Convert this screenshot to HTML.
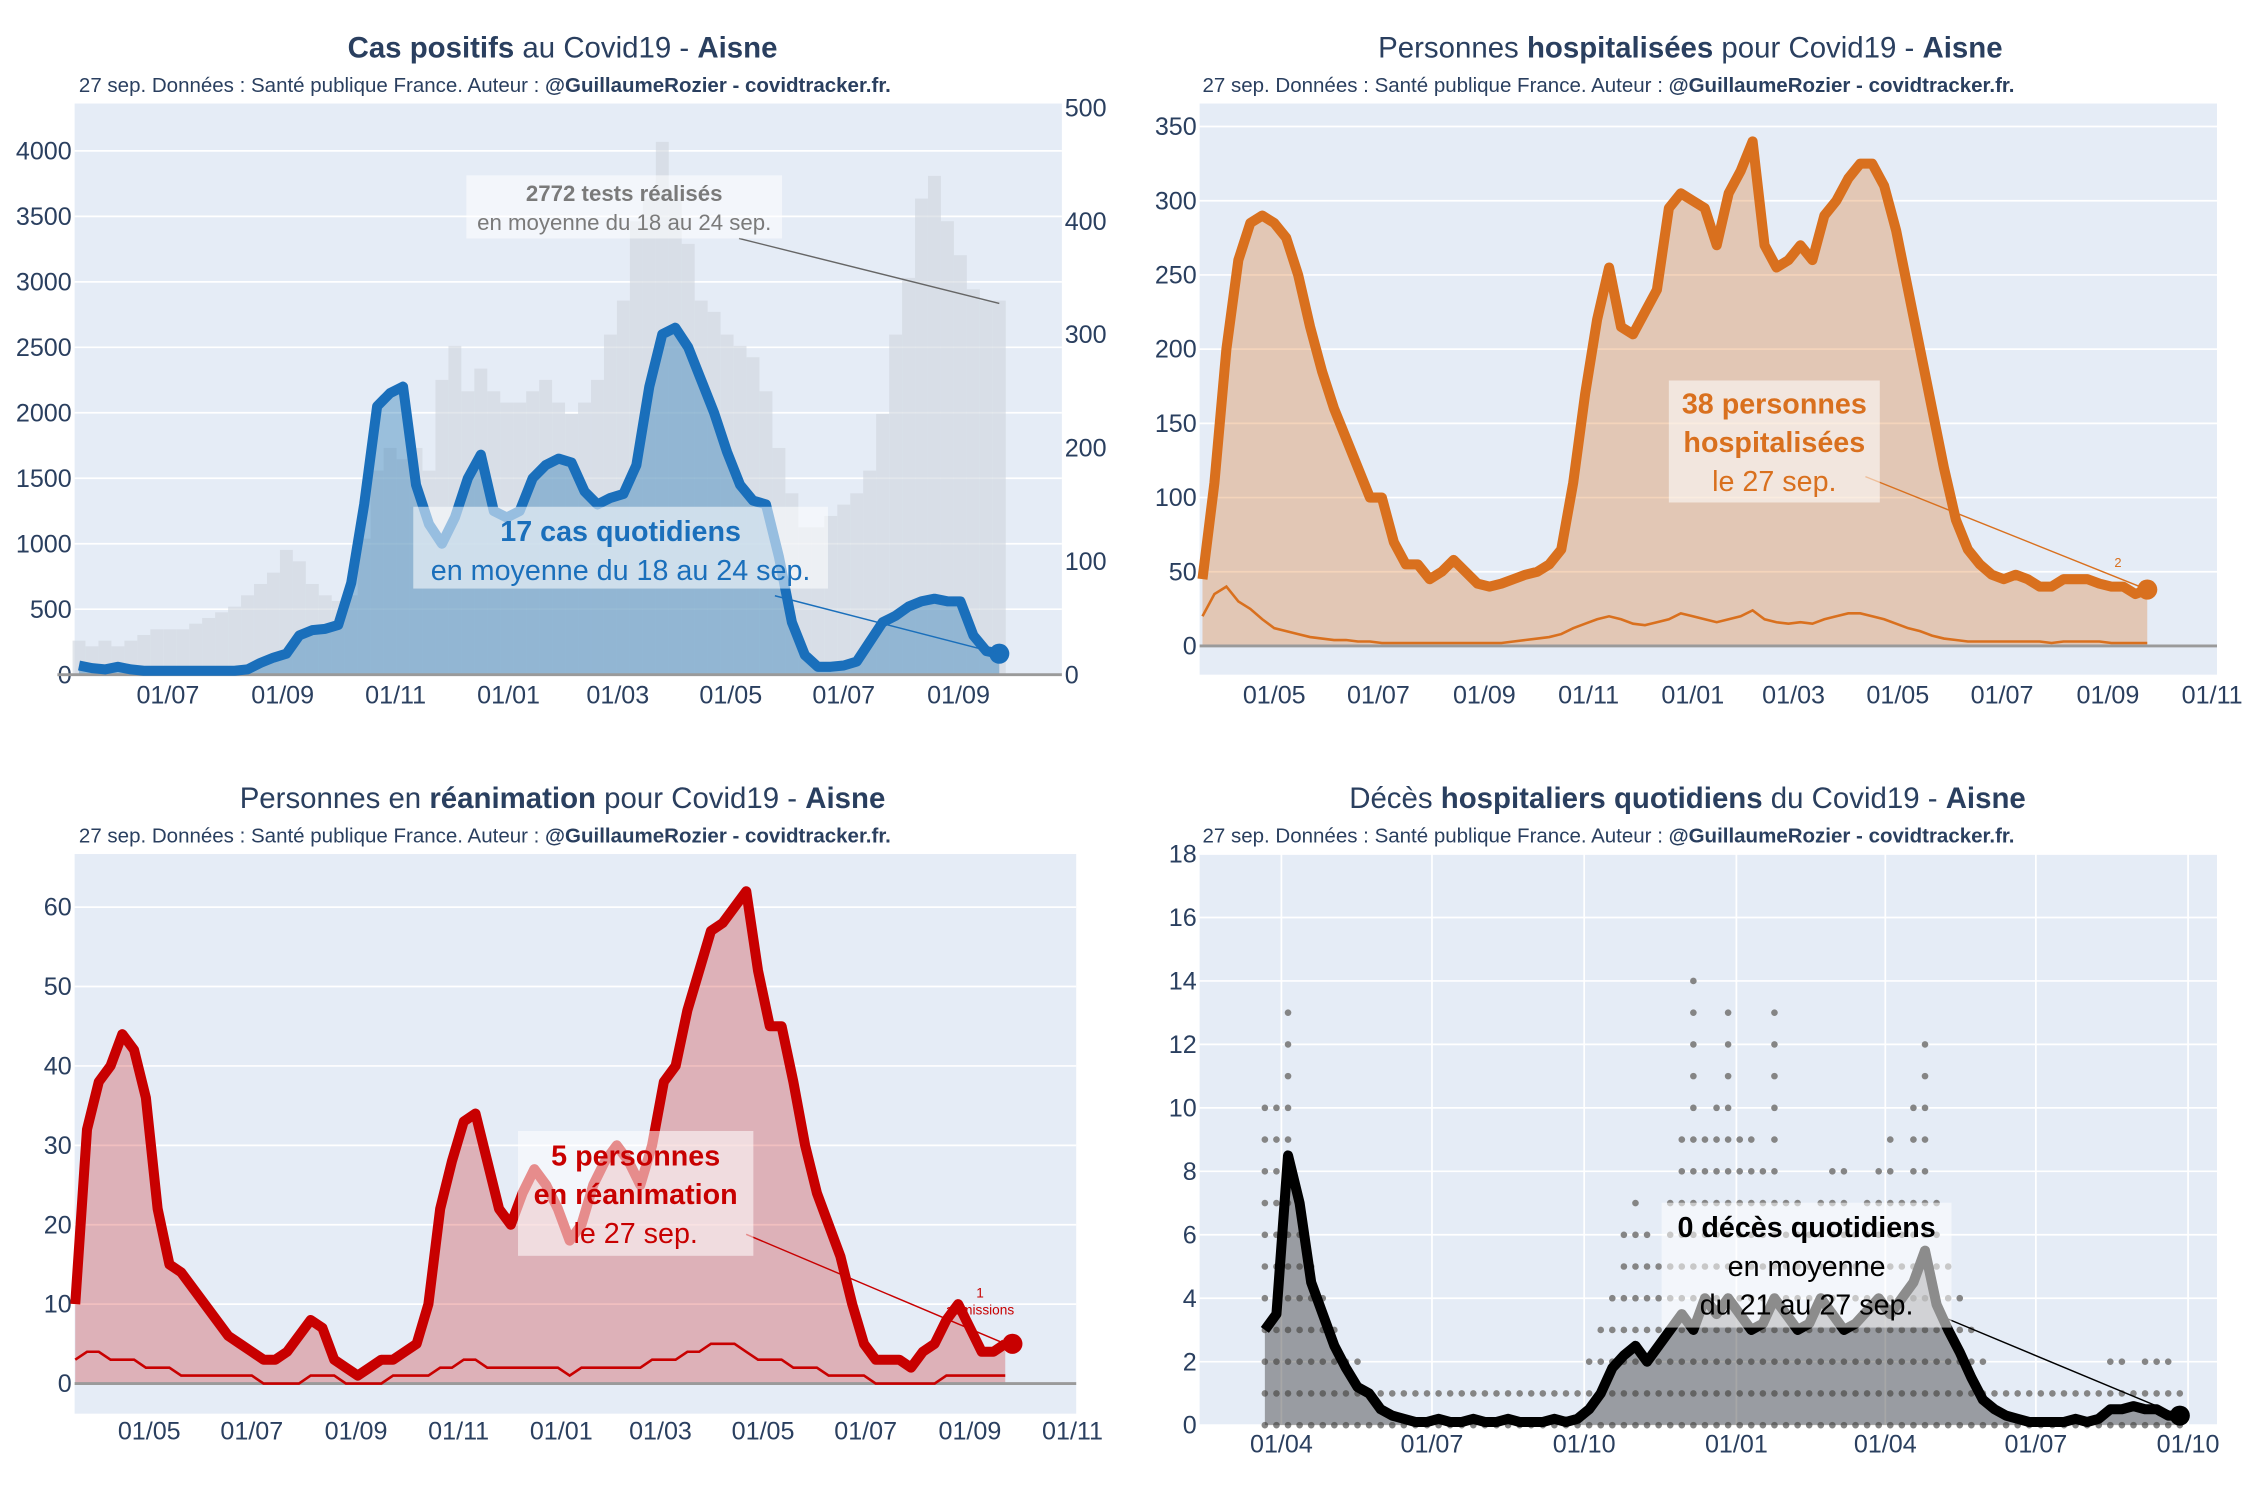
<!DOCTYPE html>
<html><head><meta charset="utf-8"><style>
html,body{margin:0;padding:0;background:#fff;width:2250px;height:1500px;overflow:hidden}
svg text{font-family:"Liberation Sans",sans-serif}
</style></head><body>
<svg id="chart" xmlns="http://www.w3.org/2000/svg" width="2250" height="1500" viewBox="0 0 1568 1045"></svg>
<script>
// ---- data ----
const casesStart = '2020-05-14';
const casesAvg = [70,50,40,60,40,30,30,30,30,30,30,30,30,40,90,130,160,300,340,350,380,700,1300,2050,2150,2200,1450,1150,1000,1200,1500,1680,1250,1200,1250,1500,1600,1650,1620,1400,1300,1350,1380,1600,2200,2600,2650,2500,2250,2000,1700,1450,1330,1300,900,400,150,60,60,70,100,250,400,450,520,560,580,560,560,300,180,160];
const testsAvg = [30,25,30,25,30,35,40,40,40,45,50,55,60,70,80,90,110,100,80,70,65,70,120,180,200,190,200,180,260,290,250,270,250,240,240,250,260,240,230,240,260,300,330,400,420,470,420,380,330,320,300,290,280,250,200,160,130,130,140,150,160,180,230,300,350,420,440,400,370,340,330,330];
const casesTicks = ['2020-07-01','2020-09-01','2020-11-01','2021-01-01','2021-03-01','2021-05-01','2021-07-01','2021-09-01'];
const casesLeftTicks = [0,500,1000,1500,2000,2500,3000,3500,4000];
const casesRightTicks = [0,100,200,300,400,500];

const hospStart = '2020-03-20';
const hosp = [45,110,200,260,285,290,285,275,250,215,185,160,140,120,100,100,70,55,55,45,50,58,50,42,40,42,45,48,50,55,65,110,170,220,255,215,210,225,240,295,305,300,295,270,305,320,340,270,255,260,270,260,290,300,315,325,325,310,280,240,200,160,120,85,65,55,48,45,48,45,40,40,45,45,45,42,40,40,35,38];
const hospAdm = [20,35,40,30,25,18,12,10,8,6,5,4,4,3,3,2,2,2,2,2,2,2,2,2,2,2,3,4,5,6,8,12,15,18,20,18,15,14,16,18,22,20,18,16,18,20,24,18,16,15,16,15,18,20,22,22,20,18,15,12,10,7,5,4,3,3,3,3,3,3,3,2,3,3,3,3,2,2,2,2];
const hospTicks = ['2020-05-01','2020-07-01','2020-09-01','2020-11-01','2021-01-01','2021-03-01','2021-05-01','2021-07-01','2021-09-01','2021-11-01'];
const hospYTicks = [0,50,100,150,200,250,300,350];

const reaStart = '2020-03-18';
const rea = [10,32,38,40,44,42,36,22,15,14,12,10,8,6,5,4,3,3,4,6,8,7,3,2,1,2,3,3,4,5,10,22,28,33,34,28,22,20,24,27,25,22,18,20,25,28,30,28,25,30,38,40,47,52,57,58,60,62,52,45,45,38,30,24,20,16,10,5,3,3,3,2,4,5,8,10,7,4,4,5];
const reaAdm = [3,4,4,3,3,3,2,2,2,1,1,1,1,1,1,1,0,0,0,0,1,1,1,0,0,0,0,1,1,1,1,2,2,3,3,2,2,2,2,2,2,2,1,2,2,2,2,2,2,3,3,3,4,4,5,5,5,4,3,3,3,2,2,2,1,1,1,1,0,0,0,0,0,0,1,1,1,1,1,1];
const reaTicks = hospTicks;
const reaYTicks = [0,10,20,30,40,50,60];

const decStart = '2020-03-22';
const dec = [3,3.5,8.5,7,4.5,3.5,2.5,1.8,1.2,1,0.5,0.3,0.2,0.1,0.1,0.2,0.1,0.1,0.2,0.1,0.1,0.2,0.1,0.1,0.1,0.2,0.1,0.2,0.5,1,1.8,2.2,2.5,2,2.5,3,3.5,3,4,3.5,4,3.5,3,3.2,4,3.5,3,3.2,4,3.5,3,3.2,3.6,4,3.5,4,4.5,5.5,3.8,3,2.3,1.5,0.8,0.5,0.3,0.2,0.1,0.1,0.1,0.1,0.2,0.1,0.2,0.5,0.5,0.6,0.5,0.5,0.3,0.3];
const decDailyMax = [10,10,13,6,5,4,3,2,2,1,1,1,1,1,1,1,1,1,1,1,1,1,1,1,1,1,1,1,2,3,4,6,7,6,5,7,9,14,9,10,13,9,9,8,13,7,7,6,7,8,8,6,7,8,9,7,10,12,7,5,4,3,2,1,1,1,1,1,1,1,1,1,1,2,2,1,2,2,2,1];
const decTicks = ['2020-04-01','2020-07-01','2020-10-01','2021-01-01','2021-04-01','2021-07-01','2021-10-01'];
const decYTicks = [0,2,4,6,8,10,12,14,16,18];

// ---- helpers ----
const NS='http://www.w3.org/2000/svg';
const svg=document.getElementById('chart');
function mk(tag,attrs,parent){const e=document.createElementNS(NS,tag);for(const k in attrs)e.setAttribute(k,attrs[k]);(parent||svg).appendChild(e);return e;}
function dayNum(s){const p=s.split('-');return Date.UTC(+p[0],+p[1]-1,+p[2])/86400000;}
function lbl(s){const p=s.split('-');return p[2]+'/'+p[1];}
const TC='#2a3f5f';

function panel(cfg){
  const g=mk('g',{});
  
  
  const bg=mk('rect',{x:cfg.px0,y:cfg.py0,width:cfg.px1-cfg.px0,height:cfg.py1-cfg.py0,fill:'#e5ecf6'},g);
  
  
  const xAt=d=>cfg.xRef+(dayNum(d)-dayNum(cfg.refDate))*cfg.pxDay;
  const yAt=v=>cfg.yZero-(v/cfg.yMaxVal)*(cfg.yZero-cfg.yMaxPx);
  const xi=(start,i)=>cfg.xRef+(dayNum(start)+7*i-dayNum(cfg.refDate))*cfg.pxDay;
  cfg.yTicks.forEach(t=>{
    const y=yAt(t);
    const l=mk('line',{x1:cfg.px0,x2:cfg.px1,y1:y,y2:y,stroke:'#fff','stroke-width':1.2},g);
    
    
    const tx=mk('text',{x:cfg.yLabelX,y:y+6,'font-size':17.5,fill:TC,'text-anchor':'end'},g);
    tx.textContent=t;
    
    
  });
  cfg.xTicks.forEach(t=>{
    const x=xAt(t);
    if(cfg.vgrid){const l=mk('line',{x1:x,x2:x,y1:cfg.py0,y2:cfg.py1,stroke:'#fff','stroke-width':1.2},g);
      
      }
    const tx=mk('text',{x:x,y:cfg.xLabelY,'font-size':17.5,fill:TC,'text-anchor':'middle'},g);
    tx.textContent=lbl(t);
    
    
  });
  const ti=mk('text',{x:cfg.titleX,y:cfg.titleY,'font-size':20.5,fill:TC,'text-anchor':'middle'},g);
  ti.innerHTML=cfg.title;
  
  
  const st=mk('text',{x:cfg.subX,y:cfg.titleY+24,'font-size':14.3,fill:TC},g);
  st.innerHTML='27 sep. Données : Santé publique France. Auteur : <tspan font-weight="bold">@GuillaumeRozier - covidtracker.fr.</tspan>';
  
  
  return {g,xAt,yAt,xi};
}
function areaPath(vals,xf,yf,y0){let d='M'+xf(0)+','+y0;vals.forEach((v,i)=>{d+=' L'+xf(i)+','+yf(v);});d+=' L'+xf(vals.length-1)+','+y0+' Z';return d;}
function linePath(vals,xf,yf){return vals.map((v,i)=>(i?'L':'M')+xf(i)+','+yf(v)).join(' ');}
function annot(g,x,y,w,h,lines,color,name){
  const r=mk('rect',{x:x,y:y,width:w,height:h,fill:'rgba(255,255,255,0.55)'},g);
  
  
  lines.forEach((ln,k)=>{
    const t=mk('text',{x:x+w/2,y:y+ln.dy,'font-size':ln.fs,fill:color,'text-anchor':'middle','font-weight':ln.b?'bold':'normal'},g);
    t.textContent=ln.t;
    
    
  });
}
function pointerLine(g,x1,y1,x2,y2,c){const l=mk('line',{x1,y1,x2,y2,stroke:c,'stroke-width':1},g);
  
  }

// ---- panel 1: cases ----
(function(){
  const p=panel({name:'cases-panel',px0:52,px1:740,py0:72,py1:470,xRef:117,refDate:'2020-07-01',pxDay:1.2904,
    yZero:470,yMaxPx:105,yMaxVal:4000,yTicks:casesLeftTicks,xTicks:casesTicks,yLabelX:50,xLabelY:490,
    titleX:392,titleY:40,subX:55,title:'<tspan font-weight="bold">Cas positifs</tspan> au Covid19 - <tspan font-weight="bold">Aisne</tspan>'});
  const yR=v=>470-(v/500)*395;
  casesRightTicks.forEach(t=>{const tx=mk('text',{x:742,y:yR(t)+6,'font-size':17.5,fill:TC},p.g);tx.textContent=t;
    
    });
  const xf=i=>p.xi(casesStart,i);
  testsAvg.forEach((v,i)=>{const b=mk('rect',{x:xf(i)-4.5,y:yR(v),width:9,height:470-yR(v),fill:'#cfd5de',opacity:0.6},p.g);
    
    });
  const a=mk('path',{d:areaPath(casesAvg,xf,p.yAt,470),fill:'rgba(31,119,180,0.38)'},p.g);
  
  
  const bl=mk('line',{x1:40,x2:740,y1:470,y2:470,stroke:'#9a9a9a','stroke-width':2},p.g);
  
  
  const l=mk('path',{d:linePath(casesAvg,xf,p.yAt),fill:'none',stroke:'#1a6fbb','stroke-width':7,'stroke-linejoin':'round'},p.g);
  
  
  const n=casesAvg.length-1;
  const c=mk('circle',{cx:xf(n),cy:p.yAt(casesAvg[n]),r:7,fill:'#1a6fbb'},p.g);
  
  
  pointerLine(p.g,515,166,xf(n),yR(testsAvg[n])+2,'#666');
  annot(p.g,325,122,220,44,[{t:'2772 tests réalisés',fs:15.5,b:1,dy:18},{t:'en moyenne du 18 au 24 sep.',fs:15.5,dy:38}],'#7a7a7a','tests-annotation');
  pointerLine(p.g,540,415,xf(n),p.yAt(casesAvg[n]),'#1a6fbb');
  annot(p.g,288,353,289,57,[{t:'17 cas quotidiens',fs:20,b:1,dy:24},{t:'en moyenne du 18 au 24 sep.',fs:20,dy:51}],'#1a6fbb','cases-annotation');
})();

// ---- panel 2: hospitalisations ----
(function(){
  const p=panel({name:'hospital-panel',px0:836,px1:1545,py0:72,py1:470,xRef:888,refDate:'2020-05-01',pxDay:1.1906,
    yZero:450,yMaxPx:88,yMaxVal:350,yTicks:hospYTicks,xTicks:hospTicks,yLabelX:834,xLabelY:490,
    titleX:1178,titleY:40,subX:838,title:'Personnes <tspan font-weight="bold">hospitalisées</tspan> pour Covid19 - <tspan font-weight="bold">Aisne</tspan>'});
  const xf=i=>p.xi(hospStart,i);
  const a=mk('path',{d:areaPath(hosp,xf,p.yAt,450),fill:'rgba(217,112,30,0.3)'},p.g);
  
  
  const bl=mk('line',{x1:836,x2:1545,y1:450,y2:450,stroke:'#9a9a9a','stroke-width':2},p.g);
  
  
  const al=mk('path',{d:linePath(hospAdm,xf,p.yAt),fill:'none',stroke:'#d9701e','stroke-width':1.8},p.g);
  
  
  const l=mk('path',{d:linePath(hosp,xf,p.yAt),fill:'none',stroke:'#d9701e','stroke-width':7,'stroke-linejoin':'round'},p.g);
  
  
  const n=hosp.length-1;
  const c=mk('circle',{cx:xf(n),cy:p.yAt(hosp[n]),r:7,fill:'#d9701e'},p.g);
  
  
  pointerLine(p.g,1300,332,xf(n),p.yAt(hosp[n]),'#d9701e');
  annot(p.g,1163,265,147,85,[{t:'38 personnes',fs:20,b:1,dy:23},{t:'hospitalisées',fs:20,b:1,dy:50},{t:'le 27 sep.',fs:20,dy:77}],'#d9701e','hospital-annotation');
  const s=mk('text',{x:1476,y:395,'font-size':9,fill:'#d9701e','text-anchor':'middle'},p.g);s.textContent='2';
  
  
})();

// ---- panel 3: reanimation ----
(function(){
  const p=panel({name:'icu-panel',px0:52,px1:750,py0:595,py1:985,xRef:104,refDate:'2020-05-01',pxDay:1.172,
    yZero:964,yMaxPx:632,yMaxVal:60,yTicks:reaYTicks,xTicks:reaTicks,yLabelX:50,xLabelY:1003,
    titleX:392,titleY:563,subX:55,title:'Personnes en <tspan font-weight="bold">réanimation</tspan> pour Covid19 - <tspan font-weight="bold">Aisne</tspan>'});
  const xf=i=>p.xi(reaStart,i);
  const a=mk('path',{d:areaPath(rea,xf,p.yAt,964),fill:'rgba(200,0,0,0.25)'},p.g);
  
  
  const bl=mk('line',{x1:52,x2:750,y1:964,y2:964,stroke:'#9a9a9a','stroke-width':2},p.g);
  
  
  const al=mk('path',{d:linePath(reaAdm,xf,p.yAt),fill:'none',stroke:'#c80000','stroke-width':1.8},p.g);
  
  
  const l=mk('path',{d:linePath(rea,xf,p.yAt),fill:'none',stroke:'#c80000','stroke-width':7,'stroke-linejoin':'round'},p.g);
  
  
  const n=rea.length-1;
  const c=mk('circle',{cx:xf(n)+5,cy:p.yAt(rea[n]),r:7,fill:'#c80000'},p.g);
  
  
  pointerLine(p.g,520,860,xf(n),p.yAt(rea[n]),'#c80000');
  annot(p.g,361,788,164,87,[{t:'5 personnes',fs:20,b:1,dy:24},{t:'en réanimation',fs:20,b:1,dy:51},{t:'le 27 sep.',fs:20,dy:78}],'#c80000','icu-annotation');
  const s=mk('text',{x:683,y:916,'font-size':9.5,fill:'#c80000','text-anchor':'middle'},p.g);s.textContent='admissions';
  
  
  const s2=mk('text',{x:683,y:904,'font-size':9.5,fill:'#c80000','text-anchor':'middle'},p.g);s2.textContent='1';
  
  
})();

// ---- panel 4: deaths ----
(function(){
  const p=panel({name:'deaths-panel',px0:836,px1:1545,py0:595,py1:993,xRef:893,refDate:'2020-04-01',pxDay:1.153,
    yZero:993,yMaxPx:595,yMaxVal:18,yTicks:decYTicks,xTicks:decTicks,yLabelX:834,xLabelY:1012,vgrid:true,
    titleX:1176,titleY:563,subX:838,title:'Décès <tspan font-weight="bold">hospitaliers quotidiens</tspan> du Covid19 - <tspan font-weight="bold">Aisne</tspan>'});
  const xf=i=>p.xi(decStart,i);
  decDailyMax.forEach((m,i)=>{for(let v=0;v<=m;v++){const d=mk('circle',{cx:xf(i),cy:p.yAt(v),r:2.3,fill:'#858585'},p.g);
    
    }});
  const a=mk('path',{d:areaPath(dec,xf,p.yAt,993),fill:'rgba(60,60,60,0.45)'},p.g);
  
  
  const l=mk('path',{d:linePath(dec,xf,p.yAt),fill:'none',stroke:'#000','stroke-width':7,'stroke-linejoin':'round'},p.g);
  
  
  const n=dec.length-1;
  const c=mk('circle',{cx:xf(n),cy:p.yAt(dec[n]),r:7,fill:'#000'},p.g);
  
  
  pointerLine(p.g,1355,918,xf(n),p.yAt(dec[n]),'#000');
  annot(p.g,1158,838,202,87,[{t:'0 décès quotidiens',fs:20,b:1,dy:24},{t:'en moyenne',fs:20,dy:51},{t:'du 21 au 27 sep.',fs:20,dy:78}],'#000','deaths-annotation');
})();
</script>
</body></html>
